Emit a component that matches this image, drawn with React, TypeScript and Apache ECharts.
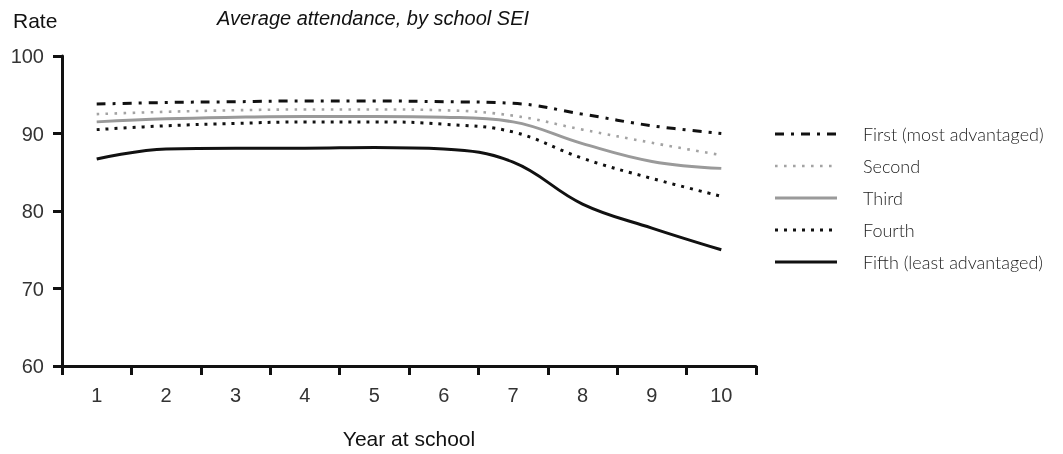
import React, { useEffect, useRef } from "react";
import * as echarts from "echarts";

const years = ["1", "2", "3", "4", "5", "6", "7", "8", "9", "10"];
const yTicks = [60, 70, 80, 90, 100];
const first = [93.8, 94.0, 94.1, 94.2, 94.2, 94.1, 93.9, 92.5, 91.0, 90.0];
const second = [92.5, 92.8, 93.0, 93.1, 93.1, 93.0, 92.3, 90.5, 88.8, 87.2];
const third = [91.5, 91.9, 92.1, 92.2, 92.2, 92.1, 91.5, 88.7, 86.4, 85.5];
const fourth = [90.5, 91.0, 91.3, 91.5, 91.5, 91.2, 90.2, 86.8, 84.2, 81.9];
const fifth = [86.7, 88.0, 88.1, 88.1, 88.2, 88.0, 86.3, 80.9, 77.8, 75.0];
const names = [
  "First (most advantaged)",
  "Second",
  "Third",
  "Fourth",
  "Fifth (least advantaged)",
];

export default function App() {
  const ref = useRef<HTMLDivElement>(null);
  useEffect(() => {
    if (!ref.current) return;
    const chart = echarts.init(ref.current, null, { renderer: "svg" });
    const styles = [
      { color: "#111", width: 3, type: [9, 7, 3, 7] as any },
      { color: "#a3a3a3", width: 2.6, type: [2.6, 6.4] as any },
      { color: "#9a9a9a", width: 3, type: "solid" as any },
      { color: "#111", width: 3, type: [3, 6] as any },
      { color: "#111", width: 3, type: "solid" as any },
    ];
    const data = [first, second, third, fourth, fifth];
    const legendY = [134, 166, 198, 230, 262];
    const legendGraphics: any[] = [];
    names.forEach((n, i) => {
      const st = styles[i];
      legendGraphics.push({
        type: "line",
        shape: { x1: 775, y1: legendY[i], x2: 837, y2: legendY[i] },
        style: {
          stroke: st.color,
          lineWidth: st.width,
          lineDash: Array.isArray(st.type) ? st.type : null,
          lineCap: "butt",
        },
      });
      legendGraphics.push({
        type: "text",
        x: 863,
        y: legendY[i],
        style: {
          text: n,
          fontFamily: "Lato",
          fontWeight: 300,
          fontSize: 18,
          fill: "#222",
          textVerticalAlign: "middle",
          verticalAlign: "middle",
        },
      });
    });
    chart.setOption({
      animation: false,
      grid: { left: 62, right: 307, top: 56, bottom: 78, containLabel: false },
      title: [
        {
          text: "Average attendance, by school SEI",
          left: 212,
          top: 3,
          textStyle: {
            fontFamily: "Liberation Sans",
            fontStyle: "italic",
            fontWeight: "normal",
            fontSize: 20,
            color: "#111",
          },
        },
        {
          text: "Rate",
          left: 8,
          top: 5,
          textStyle: {
            fontFamily: "Liberation Sans",
            fontWeight: "normal",
            fontSize: 21,
            color: "#111",
          },
        },
      ],
      graphic: legendGraphics,
      xAxis: {
        type: "category",
        data: years,
        boundaryGap: true,
        name: "Year at school",
        nameLocation: "middle",
        nameGap: 62,
        nameTextStyle: {
          fontFamily: "Liberation Sans",
          fontSize: 21,
          color: "#111",
        },
        axisLine: { lineStyle: { color: "#111", width: 3 } },
        axisTick: { show: true, length: 9, interval: 0, lineStyle: { color: "#111", width: 3 } },
        axisLabel: {
          interval: 0,
          margin: 19,
          fontFamily: "Liberation Sans",
          fontSize: 20,
          color: "#333",
        },
        splitLine: { show: false },
      },
      yAxis: {
        type: "value",
        min: yTicks[0],
        max: yTicks[yTicks.length - 1],
        interval: 10,
        axisLine: { show: true, lineStyle: { color: "#111", width: 3 } },
        axisTick: { show: true, length: 9, lineStyle: { color: "#111", width: 3 } },
        axisLabel: {
          margin: 18,
          fontFamily: "Liberation Sans",
          fontSize: 20,
          color: "#333",
        },
        splitLine: { show: false },
      },
      series: data.map((d, i) => ({
        name: names[i],
        type: "line",
        data: d,
        smooth: 0.4,
        showSymbol: false,
        symbol: "none",
        lineStyle: { ...styles[i], cap: "butt" },
        itemStyle: { color: styles[i].color },
        z: 10 - i,
      })),
    });
    return () => chart.dispose();
  }, []);
  return (
    <div
      ref={ref}
      style={{ position: "fixed", left: 0, top: 0, width: 1063, height: 454 }}
    />
  );
}
